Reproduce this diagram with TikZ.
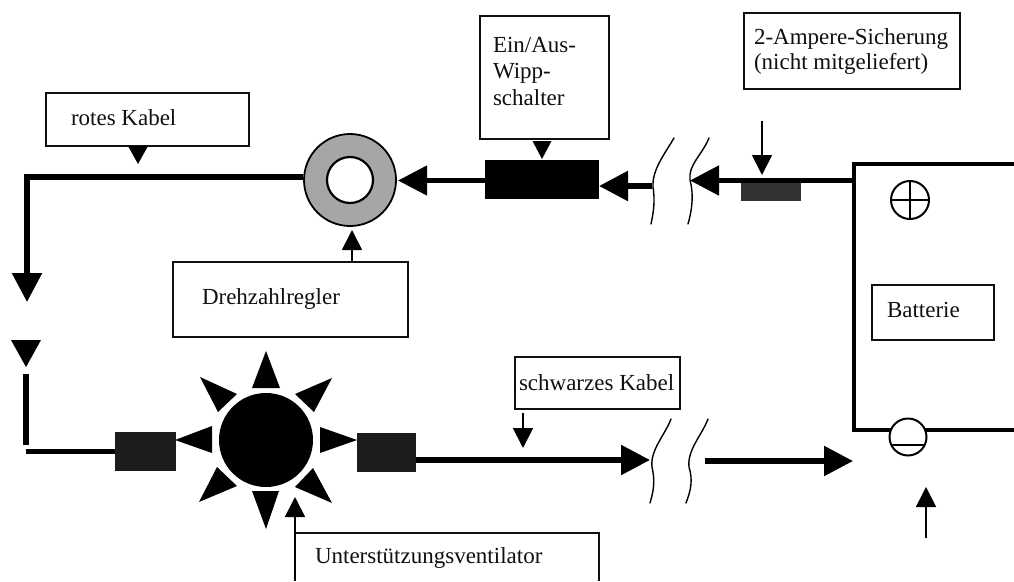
\documentclass[tikz,border=0pt]{standalone}
\usepackage{fontspec}
\setmainfont{Liberation Serif}
\usetikzlibrary{arrows.meta}
\definecolor{ink}{HTML}{101010}
\definecolor{ringgray}{HTML}{A6A6A6}
\definecolor{fusegray}{HTML}{333333}
\definecolor{blockgray}{HTML}{1C1C1C}
\tikzset{
  boxn/.style={draw=ink,line width=1.7pt,fill=white,inner sep=0pt,outer sep=0pt},
  lbl/.style={text=ink,font=\fontsize{23}{26}\selectfont,inner sep=0pt,outer sep=0pt,anchor=base west},
  block/.style={fill=black,inner sep=0pt,outer sep=0pt},
  wire/.style={draw=black,line width=5.5pt},
  bigarrow/.style={wire,-{Triangle[length=29pt,width=29pt]}},
  thinarrow/.style={draw=black,line width=1.8pt,-{Triangle[length=20pt,width=20pt]}},
  breakline/.style={draw=black,line width=1.4pt,line cap=round},
  batt/.style={draw=black,line width=4pt},
  ray/.style={fill=black},
  sym/.style={circle,draw=black,line width=2pt,fill=white,inner sep=0pt,outer sep=0pt}
}
\begin{document}
\begin{tikzpicture}[x=1pt,y=-1pt]
\useasboundingbox (0,0) rectangle (1014,581);
\fill[white] (0,0) rectangle (1014,581);

% battery
\coordinate (bsw) at (854,430);
\coordinate (bnw) at (854,164);
\coordinate (bne) at (1014,164);
\coordinate (bse) at (1014,430);
\draw[batt,line join=miter] (bne) -- (bnw) -- (bsw) -- (bse);
\node[sym,minimum size=38pt] (plus) at (910,200) {};
\draw[line width=1.6pt] (plus.north) -- (plus.south) (plus.west) -- (plus.east);
\node[sym,minimum size=37pt] (minus) at (908,437) {};
\draw[line width=1.2pt] (891,445) -- (925,445);
\node[boxn,minimum width=122pt,minimum height=55pt] (battbox) at (933,312.5) {};
\node[lbl] (batttext) at (887,317) {Batterie};

% labels
\node[boxn,minimum width=203pt,minimum height=53pt] (rotbox) at (147.5,119.5) {};
\node[lbl] (rottext) at (71,125) {rotes Kabel};
\node[boxn,minimum width=129pt,minimum height=123pt] (einbox) at (544.5,77.5) {};
\node[lbl] (eintext1) at (493,52) {Ein/Aus-};
\node[lbl] (eintext2) at (493,78) {Wipp-};
\node[lbl] (eintext3) at (493,105) {schalter};
\node[boxn,minimum width=216pt,minimum height=76pt] (ampbox) at (852,51) {};
\node[lbl] (amptext1) at (754,44) {2-Ampere-Sicherung};
\node[lbl] (amptext2) at (754,69) {(nicht mitgeliefert)};
\node[boxn,minimum width=235pt,minimum height=75pt] (drehbox) at (290.5,299.5) {};
\node[lbl] (drehtext) at (202,304) {Drehzahlregler};
\node[boxn,minimum width=165pt,minimum height=52pt] (schwbox) at (597.5,383) {};
\node[lbl] (schwtext) at (519,390) {schwarzes Kabel};
\coordinate (ubl) at (295,581);
\coordinate (utl) at (295,533);
\coordinate (utr) at (599,533);
\coordinate (ubr) at (599,581);
\draw[draw=ink,line width=1.7pt] (utl) -- (utr) -- (ubr);
\node[lbl] (utext) at (315,563) {Unterstützungsventilator};

% top wire, right to left
\node[block,minimum width=114pt,minimum height=39pt] (switch) at (542,179.5) {};
\node[circle,draw=black,line width=1.8pt,fill=ringgray,minimum size=92pt,inner sep=0pt,outer sep=0pt] (ring) at (350,180) {};
\node[circle,draw=black,line width=2.2pt,fill=white,minimum size=46pt,inner sep=0pt,outer sep=0pt] (hole) at (350,180) {};

\coordinate (battL) at (853,180.5);
\coordinate (tipA) at (690,180.5);
\draw[bigarrow,line width=5pt] (battL) -- (tipA);
\node[block,minimum width=60pt,minimum height=18pt,fill=fusegray] (fuse) at (771,192) {};
\coordinate (brkA) at (652,186);
\coordinate (swR) at (599,186);
\draw[bigarrow] (brkA) -- (swR);
\coordinate (swL) at (485,180.5);
\coordinate (ringE) at (398,180.5);
\draw[bigarrow,line width=4.5pt] (swL) -- (ringE);
\coordinate (ringW) at (303,177);
\coordinate (corner) at (27,177);
\coordinate (tipD) at (27,302);
\draw[wire,line join=miter,-{Triangle[length=29pt,width=29pt]}] (ringW) -- (corner) -- (tipD);

% lower-left wire
\fill[black] (11,340) -- (41,340) -- (26,367) -- cycle;
\coordinate (vt) at (26,374);
\coordinate (vb) at (26,445);
\draw[wire] (vt) -- (vb);
\node[block,fill=blockgray,minimum width=61pt,minimum height=39pt] (fanL) at (145.5,451.5) {};
\coordinate (hl) at (26,451.5);
\draw[wire,line width=5pt] (hl) -- (fanL.west);
\node[block,fill=blockgray,minimum width=59pt,minimum height=39pt] (fanR) at (386.5,452.5) {};
\coordinate (tipE) at (650,460);
\coordinate (fanRo) at (416,460);
\draw[bigarrow] (fanRo) -- (tipE);
\coordinate (brkB) at (705,461);
\coordinate (tipF) at (853,461);
\draw[bigarrow] (brkB) -- (tipF);

% fan
\node[circle,fill=black,minimum size=94pt,inner sep=0pt,outer sep=0pt] (fan) at (266,440) {};
\fill[ray] (266,351) -- (252,388) -- (280,388) -- cycle;
\fill[ray] (266,529) -- (252,491) -- (279,491) -- cycle;
\fill[ray] (175,440) -- (212,426) -- (212,453) -- cycle;
\fill[ray] (357,440) -- (320,427) -- (320,453) -- cycle;
\fill[ray] (200,377) -- (237,394) -- (218,412) -- cycle;
\fill[ray] (332,378) -- (295,394) -- (314,412) -- cycle;
\fill[ray] (199,502) -- (237,486) -- (217,467) -- cycle;
\fill[ray] (332,503) -- (295,487) -- (313,468) -- cycle;

% pointer triangles under boxes
\fill[black] (128,146) -- (148,146) -- (138,164) -- cycle;
\fill[black] (532.5,141) -- (551.5,141) -- (542,159) -- cycle;

% thin pointers
\coordinate (drehtop) at (352,262);
\coordinate (ringS) at (352,230);
\draw[thinarrow] (drehtop) -- (ringS);
\coordinate (ftop) at (762,121);
\coordinate (fusetip) at (762,175);
\draw[thinarrow] (ftop) -- (fusetip);
\coordinate (stop) at (523,413);
\coordinate (stip) at (523,448);
\draw[thinarrow] (stop) -- (stip);
\coordinate (mbot) at (926,538);
\coordinate (mtip) at (926,487);
\draw[thinarrow] (mbot) -- (mtip);
\coordinate (utip) at (295,497);
\draw[thinarrow] (ubl) -- (utip);

% cable breaks
\draw[breakline] (674,138) .. controls (664,155) and (652,170) .. (653,187) .. controls (655,200) and (654,210) .. (651,224);
\draw[breakline] (709,138) .. controls (702,155) and (688,165) .. (690,180) .. controls (694,195) and (692,210) .. (688,224);
\draw[breakline] (671,419) .. controls (665,435) and (650,450) .. (652,467) .. controls (655,480) and (654,490) .. (650,503);
\draw[breakline] (708,419) .. controls (702,435) and (687,450) .. (689,467) .. controls (693,480) and (691,490) .. (686,503);
\end{tikzpicture}
\end{document}
